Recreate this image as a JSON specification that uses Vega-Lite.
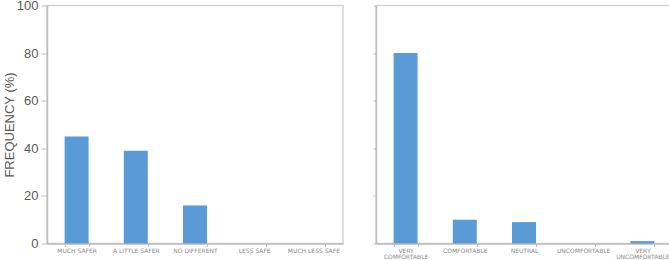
{
  "$schema": "https://vega.github.io/schema/vega-lite/v6.json",
  "padding": {"left": 2, "top": -1.5, "right": 0, "bottom": 0},
  "spacing": 27,
  "config": {
    "font": "Liberation Sans",
    "view": {"stroke": "#d4d4d4", "strokeWidth": 1.5},
    "axis": {"domainColor": "#bdbdbd", "tickColor": "#bdbdbd", "grid": false, "domainWidth": 1.5}
  },
  "datasets": {
    "safety": [
      {"category": "MUCH SAFER", "frequency": 45},
      {"category": "A LITTLE SAFER", "frequency": 39},
      {"category": "NO DIFFERENT", "frequency": 16},
      {"category": "LESS SAFE", "frequency": 0},
      {"category": "MUCH LESS SAFE", "frequency": 0}
    ],
    "comfort": [
      {"category": "VERY COMFORTABLE", "frequency": 80},
      {"category": "COMFORTABLE", "frequency": 10},
      {"category": "NEUTRAL", "frequency": 9},
      {"category": "UNCOMFORTABLE", "frequency": 0},
      {"category": "VERY UNCOMFORTABLE", "frequency": 1}
    ]
  },
  "hconcat": [
    {
      "width": 296,
      "height": 238,
      "data": {"name": "safety"},
      "mark": {"type": "bar", "color": "#5b9bd5"},
      "encoding": {
        "x": {
          "field": "category", "type": "nominal", "sort": null,
          "scale": {"paddingInner": 0.595, "paddingOuter": 0.2975},
          "axis": {"title": null, "labelAngle": 0, "labelFontSize": 6, "labelColor": "#8a8a8a", "labelFont": "DejaVu Sans", "tickBand": "extent", "tickSize": 3, "labelPadding": 1}
        },
        "y": {
          "field": "frequency", "type": "quantitative",
          "scale": {"domain": [0, 100]},
          "axis": {"title": "FREQUENCY (%)", "titleFontSize": 13, "titleFontWeight": "normal", "titleColor": "#595959", "labelFontSize": 13, "labelColor": "#595959", "values": [0, 20, 40, 60, 80, 100], "tickSize": 6, "labelPadding": 3, "titlePadding": 0}
        }
      }
    },
    {
      "width": 296,
      "height": 238,
      "data": {"name": "comfort"},
      "mark": {"type": "bar", "color": "#5b9bd5"},
      "encoding": {
        "x": {
          "field": "category", "type": "nominal", "sort": null,
          "scale": {"paddingInner": 0.595, "paddingOuter": 0.2975},
          "axis": {"title": null, "labelAngle": 0, "labelFontSize": 6, "labelColor": "#8a8a8a", "labelFont": "DejaVu Sans", "tickBand": "extent", "tickSize": 3, "labelPadding": 1, "labelLineHeight": 6,
            "labelExpr": "datum.value == 'VERY COMFORTABLE' || datum.value == 'VERY UNCOMFORTABLE' ? split(datum.value, ' ') : datum.value"}
        },
        "y": {
          "field": "frequency", "type": "quantitative",
          "scale": {"domain": [0, 100]},
          "axis": {"title": null, "labels": false, "values": [0, 20, 40, 60, 80, 100], "tickSize": 3}
        }
      }
    }
  ]
}
